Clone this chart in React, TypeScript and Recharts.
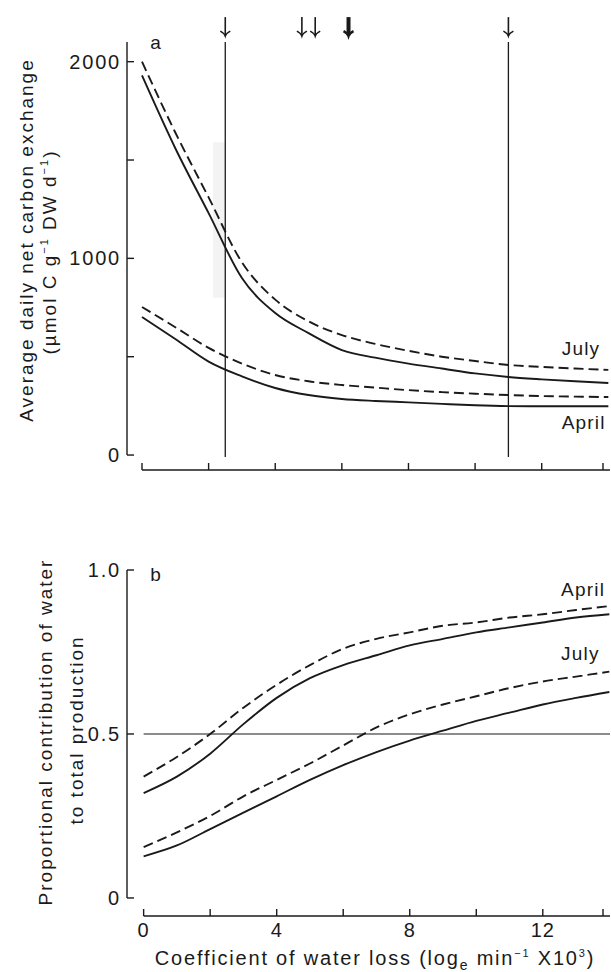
import React from 'react';
import {
  LineChart,
  Line,
  XAxis,
  YAxis,
  ReferenceLine,
  ReferenceArea,
  ReferenceDot,
} from 'recharts';

const INK = '#1a1a1a';
const FONT = '"Liberation Sans", Arial, Helvetica, sans-serif';

// shared x grid (coefficient of water loss)
const xValues = [0, 1, 2, 3, 4, 5, 6, 7, 8, 9, 10, 11, 12, 13, 14];

// panel a: daily net carbon exchange
const julyExchangeSolid = [1930, 1560, 1230, 900, 722, 620, 534, 495, 465, 440, 415, 397, 385, 375, 366];
const julyExchangeDashed = [2000, 1640, 1310, 980, 790, 680, 610, 565, 530, 500, 478, 458, 448, 440, 433];
const aprilExchangeSolid = [702, 590, 475, 400, 341, 305, 285, 275, 268, 260, 253, 249, 248, 248, 248];
const aprilExchangeDashed = [753, 650, 545, 465, 407, 375, 356, 343, 330, 320, 312, 305, 300, 297, 295];

// panel b: proportional contribution of water
const aprilShareSolid = [0.32, 0.37, 0.44, 0.53, 0.61, 0.67, 0.71, 0.74, 0.77, 0.79, 0.81, 0.825, 0.84, 0.855, 0.865];
const aprilShareDashed = [0.37, 0.43, 0.5, 0.58, 0.65, 0.71, 0.76, 0.79, 0.81, 0.83, 0.84, 0.855, 0.865, 0.878, 0.89];
const julyShareSolid = [0.127, 0.16, 0.21, 0.26, 0.31, 0.36, 0.405, 0.445, 0.48, 0.51, 0.54, 0.565, 0.59, 0.61, 0.628];
const julyShareDashed = [0.155, 0.2, 0.25, 0.31, 0.36, 0.41, 0.465, 0.52, 0.56, 0.59, 0.615, 0.64, 0.66, 0.675, 0.69];

// ticks
const xTicks = [0, 2, 4, 6, 8, 10, 12, 14];
const xTickLabels = [0, 4, 8, 12];
const topYTicks = [0, 500, 1000, 1500, 2000];
const topYLabels = [0, 1000, 2000];
const bottomYTicks = [0, 0.5, 1];
const bottomYLabels = ['0', '0.5', '1.0'];

// markers on panel a
const markerLines = [2.5, 11];
const arrowX = [2.5, 4.8, 5.2, 6.2, 11];
const arrowBold = [false, false, false, true, false];

const topData = xValues.map((x, i) => ({
  x,
  julySolid: julyExchangeSolid[i],
  julyDashed: julyExchangeDashed[i],
  aprilSolid: aprilExchangeSolid[i],
  aprilDashed: aprilExchangeDashed[i],
}));

const bottomData = xValues.map((x, i) => ({
  x,
  aprilSolid: aprilShareSolid[i],
  aprilDashed: aprilShareDashed[i],
  julySolid: julyShareSolid[i],
  julyDashed: julyShareDashed[i],
}));

const TOP_X = [-0.45, 14.05];
const TOP_Y = [-76, 2100];
const BOT_X = [-0.5, 14.02];
const BOT_Y = [-0.055, 1.0];

const XTick = (props: any) => {
  const { x, y, payload } = props;
  const show = props.labels && xTickLabels.includes(payload.value);
  return (
    <g>
      <line x1={x} x2={x} y1={y} y2={y - 7} stroke={INK} strokeWidth={1.4} />
      {show && (
        <text x={x} y={y + 21} textAnchor="middle" fontSize={20} letterSpacing={1} fontFamily={FONT} fill={INK}>
          {payload.value}
        </text>
      )}
    </g>
  );
};

const YTick = (props: any) => {
  const { x, y, payload, labelFor } = props;
  const label = labelFor(payload.value);
  return (
    <g>
      <line x1={x} x2={x + 7} y1={y} y2={y} stroke={INK} strokeWidth={1.4} />
      {label && (
        <text x={x - 6} y={y + 7} textAnchor="end" fontSize={20} letterSpacing={1.8} fontFamily={FONT} fill={INK}>
          {label}
        </text>
      )}
    </g>
  );
};

const Note = (text: string, size = 19) => (p: any) => (
  <text x={p.cx} y={p.cy} dominantBaseline="central" fontSize={size} letterSpacing={1.2} fontFamily={FONT} fill={INK}>
    {text}
  </text>
);

const Arrow = (bold: boolean) => (p: any) => {
  const { cx, cy } = p;
  return (
    <g stroke={INK} fill="none" strokeLinecap="butt">
      <line x1={cx} y1={cy - 19} x2={cx} y2={cy - 1} strokeWidth={bold ? 4 : 1.6} />
      <path
        d={`M${cx - 5} ${cy - 5} Q${cx - 1} ${cy - 3} ${cx} ${cy} Q${cx + 1} ${cy - 3} ${cx + 5} ${cy - 5}`}
        strokeWidth={bold ? 2.4 : 1.6}
      />
    </g>
  );
};

const VTitle = ({ cx, cy, children }: any) => (
  <div
    style={{
      position: 'absolute',
      left: cx,
      top: cy,
      transform: 'translate(-50%, -50%) rotate(-90deg)',
      whiteSpace: 'nowrap',
      fontFamily: FONT,
      fontSize: 19,
      letterSpacing: 2,
      lineHeight: 1,
      color: INK,
    }}
  >
    {children}
  </div>
);

const series = (keys: string[]) =>
  keys.map((k) => (
    <Line
      key={k}
      type="monotone"
      dataKey={k}
      stroke={INK}
      strokeWidth={1.9}
      strokeDasharray={k.includes('Dashed') ? '10 5' : undefined}
      dot={false}
      isAnimationActive={false}
    />
  ));

export default function App() {
  return (
    <div style={{ position: 'absolute', left: 0, top: 0, width: 611, height: 972, background: '#fff' }}>
      {/* Panel a */}
      <div style={{ position: 'absolute', left: 0, top: 0 }}>
        <LineChart width={611} height={480} data={topData} margin={{ top: 42, right: 1, bottom: 8, left: 67 }}>
          <XAxis
            type="number"
            dataKey="x"
            domain={TOP_X}
            ticks={xTicks}
            allowDataOverflow
            axisLine={false}
            tickLine={false}
            tickSize={0}
            tickMargin={0}
            height={2}
            tick={<XTick labels={false} />}
          />
          <YAxis
            type="number"
            domain={TOP_Y}
            ticks={topYTicks}
            allowDataOverflow
            axisLine={false}
            tickLine={false}
            tickSize={0}
            tickMargin={0}
            width={60}
            tick={<YTick labelFor={(v: number) => (topYLabels.includes(v) ? String(v) : '')} />}
          />
          <ReferenceArea x1={2.13} x2={2.5} y1={800} y2={1590} fill="#f3f3f3" fillOpacity={1} stroke="none" />
          <ReferenceLine segment={[{ x: TOP_X[0], y: 0 }, { x: TOP_X[0], y: 2100 }]} stroke={INK} strokeWidth={1.4} ifOverflow="visible" />
          <ReferenceLine segment={[{ x: 0, y: TOP_Y[0] }, { x: TOP_X[1], y: TOP_Y[0] }]} stroke={INK} strokeWidth={1.4} ifOverflow="visible" />
          {markerLines.map((m) => (
            <ReferenceLine key={m} segment={[{ x: m, y: -10 }, { x: m, y: 2100 }]} stroke={INK} strokeWidth={1.3} ifOverflow="visible" />
          ))}
          {series(['julyDashed', 'julySolid', 'aprilDashed', 'aprilSolid'])}
          {arrowX.map((ax, i) => (
            <ReferenceDot key={ax} x={ax} y={2130} r={0} ifOverflow="visible" shape={Arrow(arrowBold[i])} />
          ))}
          <ReferenceDot x={0.25} y={2100} r={0} ifOverflow="visible" shape={Note('a', 19)} />
          <ReferenceDot x={12.6} y={540} r={0} ifOverflow="visible" shape={Note('July')} />
          <ReferenceDot x={12.6} y={165} r={0} ifOverflow="visible" shape={Note('April')} />
        </LineChart>
      </div>

      {/* Panel b */}
      <div style={{ position: 'absolute', left: 0, top: 530 }}>
        <LineChart width={611} height={442} data={bottomData} margin={{ top: 40, right: 1, bottom: 54, left: 67 }}>
          <XAxis
            type="number"
            dataKey="x"
            domain={BOT_X}
            ticks={xTicks}
            allowDataOverflow
            axisLine={false}
            tickLine={false}
            tickSize={0}
            tickMargin={0}
            height={2}
            tick={<XTick labels />}
          />
          <YAxis
            type="number"
            domain={BOT_Y}
            ticks={bottomYTicks}
            allowDataOverflow
            axisLine={false}
            tickLine={false}
            tickSize={0}
            tickMargin={0}
            width={60}
            tick={<YTick labelFor={(v: number) => bottomYLabels[bottomYTicks.indexOf(v)]} />}
          />
          <ReferenceLine segment={[{ x: BOT_X[0], y: 0 }, { x: BOT_X[0], y: 1 }]} stroke={INK} strokeWidth={1.4} ifOverflow="visible" />
          <ReferenceLine segment={[{ x: 0, y: BOT_Y[0] }, { x: BOT_X[1], y: BOT_Y[0] }]} stroke={INK} strokeWidth={1.4} ifOverflow="visible" />
          <ReferenceLine segment={[{ x: 0, y: 0.5 }, { x: BOT_X[1], y: 0.5 }]} stroke={INK} strokeWidth={1.2} ifOverflow="visible" />
          {series(['aprilDashed', 'aprilSolid', 'julyDashed', 'julySolid'])}
          <ReferenceDot x={0.2} y={0.985} r={0} ifOverflow="visible" shape={Note('b', 19)} />
          <ReferenceDot x={12.55} y={0.94} r={0} ifOverflow="visible" shape={Note('April')} />
          <ReferenceDot x={12.55} y={0.745} r={0} ifOverflow="visible" shape={Note('July')} />
        </LineChart>
      </div>

      <VTitle cx={26} cy={240}>Average daily net carbon exchange</VTitle>
      <VTitle cx={49} cy={252}>
        (µmol C g<sup style={{ fontSize: 11 }}>−1</sup> DW d<sup style={{ fontSize: 11 }}>−1</sup>)
      </VTitle>
      <VTitle cx={45} cy={732}>Proportional contribution of water</VTitle>
      <VTitle cx={76} cy={730}>to total production</VTitle>

      <div
        style={{
          position: 'absolute',
          left: 375,
          top: 960,
          transform: 'translate(-50%, -50%)',
          whiteSpace: 'nowrap',
          fontFamily: FONT,
          fontSize: 20,
          letterSpacing: 1.8,
          lineHeight: 1,
          color: INK,
        }}
      >
        Coefficient of water loss (log<sub style={{ fontSize: 14 }}>e</sub> min<sup style={{ fontSize: 11 }}>−1</sup> X10
        <sup style={{ fontSize: 11 }}>3</sup>)
      </div>
    </div>
  );
}
